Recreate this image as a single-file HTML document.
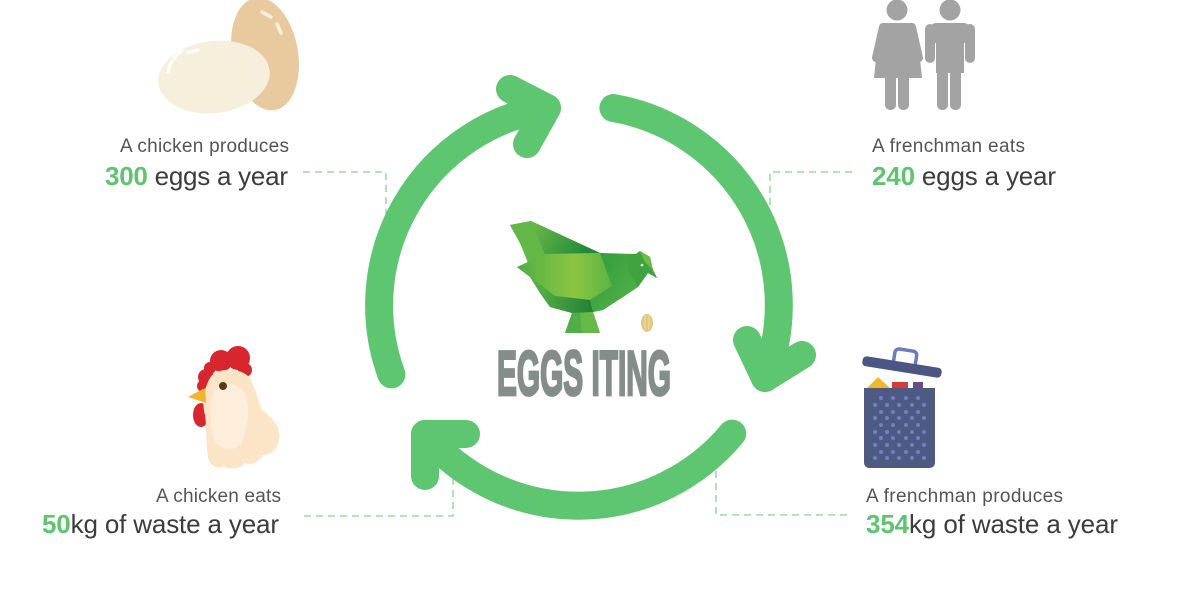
<!DOCTYPE html>
<html>
<head>
<meta charset="utf-8">
<style>
html,body{margin:0;padding:0;background:#fff;}
svg{display:block;}
text{font-family:"Liberation Sans",Arial,sans-serif;}
</style>
</head>
<body>
<svg width="1199" height="599" viewBox="0 0 1199 599" xmlns="http://www.w3.org/2000/svg">
<defs>
  <linearGradient id="gBack" x1="0" y1="0" x2="1" y2="0.3">
    <stop offset="0" stop-color="#6cbb48"/>
    <stop offset="1" stop-color="#1f8a3a"/>
  </linearGradient>
  <linearGradient id="gWing" x1="0" y1="0" x2="1" y2="0">
    <stop offset="0" stop-color="#4fae44"/>
    <stop offset="0.6" stop-color="#8cc540"/>
    <stop offset="1" stop-color="#5bb445"/>
  </linearGradient>
  <linearGradient id="gChest" x1="0" y1="0" x2="1" y2="1">
    <stop offset="0" stop-color="#2e9a3e"/>
    <stop offset="1" stop-color="#58b446"/>
  </linearGradient>
  <linearGradient id="gLow" x1="0" y1="0" x2="1" y2="0">
    <stop offset="0" stop-color="#5db445"/>
    <stop offset="1" stop-color="#237f38"/>
  </linearGradient>
</defs>

<rect width="1199" height="599" fill="#fff"/>

<!-- dashed connectors -->
<g fill="none" stroke="#86d395" stroke-width="1.3" stroke-dasharray="7 5">
  <path d="M303,172 H386 V215"/>
  <path d="M852,172 H770 V215"/>
  <path d="M304,516 H453 V470"/>
  <path d="M847,515 H716 V470"/>
</g>

<!-- cycle arrows -->
<g fill="none" stroke="#5ec671" stroke-width="28" stroke-linecap="round" stroke-linejoin="round">
  <path d="M391.4,374.4 A200,200 0 0 1 547,108"/>
  <path d="M510,89 L547,108 L527,144"/>
  <path d="M613.4,108 A200,200 0 0 1 765,378"/>
  <path d="M747,340 L765,378 L802,355"/>
  <path d="M732.2,433.6 A200,200 0 0 1 425,434"/>
  <path d="M466,434 L425,434 L425,476"/>
</g>

<!-- central hen logo -->
<g>
  <polygon points="510,225 531,221 600,253 636,254 640,251 650,257 653,270 657,278 648,273 638,287 603,310 593,312 600,333 565,333 572,313 550,307 540,293 530,277 517,267 530,264 520,243" fill="#4aa83f"/>
  <polygon points="510,225 531,221 545,254 528,263 520,243" fill="#62b747"/>
  <polygon points="531,221 600,253 545,254" fill="url(#gBack)"/>
  <polygon points="517,267 545,254 600,253 612,286 590,300 555,296 530,277" fill="url(#gWing)"/>
  <polygon points="530,277 555,296 590,300 593,312 572,313 550,307 540,293" fill="url(#gLow)"/>
  <polygon points="600,253 630,255 628,270 638,287 603,310 593,312 590,300 612,286" fill="url(#gChest)"/>
  <polygon points="630,255 636,254 640,251 650,257 653,270 657,278 648,273 638,287 628,270" fill="#3fa43f"/>
  <polygon points="640,251 650,257 653,270 645,262" fill="#6cbd48"/>
  <polygon points="572,313 593,312 600,333 565,333" fill="#4fae45"/>
  <polygon points="580,313 593,312 600,333 582,333" fill="#67b948"/>
  <circle cx="642" cy="265" r="1.3" fill="#fff"/>
  <ellipse cx="647" cy="323" rx="6" ry="9" fill="#e2c77e"/>
  <path d="M645,316 L645,330 M649,316 L649,330" stroke="#f1dfa8" stroke-width="1"/>
  <text x="497" y="395" font-size="63" font-weight="bold" fill="#858d8b" stroke="#858d8b" stroke-width="2.8" textLength="174" lengthAdjust="spacingAndGlyphs">EGGS ITING</text>
</g>

<!-- eggs icon -->
<g>
  <ellipse cx="265" cy="54" rx="33" ry="57" transform="rotate(-10 265 54)" fill="#e9c99e"/>
  <path d="M262,12 L271,17 M277,24 L281,33" stroke="#fbf0da" stroke-width="3.5" stroke-linecap="round" fill="none"/>
  <ellipse cx="214" cy="77" rx="56" ry="36" transform="rotate(-7 214 77)" fill="#f6efdc"/>
  <path d="M168,72 Q171,58 182,51 M188,52 L198,50" stroke="#fffdf6" stroke-width="3.5" stroke-linecap="round" fill="none"/>
</g>

<!-- people icon -->
<g fill="#a3a3a3">
  <circle cx="897" cy="10" r="10.5"/>
  <path d="M884,23 L911,23 Q915,23 916,28 L918,40 L922,78 L874,78 L878,40 L880,28 Q881,23 884,23 Z"/>
  <path d="M883,27 L876,58 M912,27 L919,58" stroke="#a3a3a3" stroke-width="8" stroke-linecap="round"/>
  <rect x="885" y="70" width="11" height="40" rx="5"/>
  <rect x="898" y="70" width="11" height="40" rx="5"/>
  <circle cx="950" cy="10" r="10.5"/>
  <rect x="930" y="23" width="40" height="20" rx="6"/>
  <rect x="925" y="24" width="10" height="39" rx="5"/>
  <rect x="965" y="24" width="10" height="39" rx="5"/>
  <rect x="936" y="23" width="28" height="50"/>
  <rect x="937" y="65" width="11" height="45" rx="5"/>
  <rect x="950" y="65" width="11" height="45" rx="5"/>
</g>

<!-- rooster icon -->
<g>
  <circle cx="206" cy="377" r="8" fill="#d8262f"/>
  <circle cx="203" cy="386" r="6" fill="#d8262f"/>
  <circle cx="210" cy="368" r="6" fill="#d8262f"/>
  <circle cx="221" cy="361" r="11" fill="#d8262f"/>
  <circle cx="238" cy="358" r="12" fill="#d8262f"/>
  <circle cx="245" cy="370" r="7" fill="#d8262f"/>
  <ellipse cx="201" cy="415" rx="8" ry="12" fill="#d8262f"/>
  <path d="M210,378 C215,368 240,366 250,378 C256,390 258,402 262,410 C272,418 282,428 279,440 C277,450 270,455 263,455 C258,463 250,466 245,463 C238,470 228,470 224,466 C218,470 210,466 208,458 C206,445 207,430 205,415 C202,405 203,390 210,378 Z" fill="#fce4c6"/>
  <path d="M214,390 C222,380 240,382 246,396 C250,410 248,430 240,445 C232,452 220,450 214,440 C210,425 209,405 214,390 Z" fill="#fdeedb"/>
  <polygon points="188,397 205,388 206,403" fill="#f4b52c"/>
  <circle cx="223" cy="386" r="4" fill="#5a3818"/>
</g>

<!-- trash icon -->
<g>
  <rect x="894" y="350" width="22" height="18" rx="4" transform="rotate(9 905 359)" fill="none" stroke="#6b7bc4" stroke-width="3.5"/>
  <rect x="862" y="362" width="80" height="10" rx="4" transform="rotate(9 902 367)" fill="#4b5682"/>
  <polygon points="867,388 878,377 890,388" fill="#f0b92c"/>
  <rect x="892" y="382" width="16" height="6" fill="#d83a3a"/>
  <rect x="913" y="382" width="10" height="6" fill="#6a4a8a"/>
  <path d="M864,388 H935 V462 Q935,468 929,468 H870 Q864,468 864,462 Z" fill="#4e5a82"/>
  <g fill="#6f80c8">
    <circle cx="881" cy="398" r="2"/><circle cx="893" cy="398" r="2"/><circle cx="906" cy="398" r="2"/><circle cx="918" cy="398" r="2"/>
    <circle cx="875" cy="405" r="2"/><circle cx="887" cy="405" r="2"/><circle cx="899" cy="405" r="2"/><circle cx="912" cy="405" r="2"/><circle cx="924" cy="405" r="2"/>
    <circle cx="881" cy="412" r="2"/><circle cx="893" cy="412" r="2"/><circle cx="906" cy="412" r="2"/><circle cx="918" cy="412" r="2"/>
    <circle cx="875" cy="418" r="2"/><circle cx="887" cy="418" r="2"/><circle cx="899" cy="418" r="2"/><circle cx="912" cy="418" r="2"/><circle cx="924" cy="418" r="2"/>
    <circle cx="881" cy="425" r="2"/><circle cx="893" cy="425" r="2"/><circle cx="906" cy="425" r="2"/><circle cx="918" cy="425" r="2"/>
    <circle cx="875" cy="432" r="2"/><circle cx="887" cy="432" r="2"/><circle cx="899" cy="432" r="2"/><circle cx="912" cy="432" r="2"/><circle cx="924" cy="432" r="2"/>
    <circle cx="881" cy="438" r="2"/><circle cx="893" cy="438" r="2"/><circle cx="906" cy="438" r="2"/><circle cx="918" cy="438" r="2"/>
    <circle cx="875" cy="445" r="2"/><circle cx="887" cy="445" r="2"/><circle cx="899" cy="445" r="2"/><circle cx="912" cy="445" r="2"/><circle cx="924" cy="445" r="2"/>
    <circle cx="881" cy="452" r="2"/><circle cx="893" cy="452" r="2"/><circle cx="906" cy="452" r="2"/><circle cx="918" cy="452" r="2"/>
    <circle cx="875" cy="458" r="2"/><circle cx="887" cy="458" r="2"/><circle cx="899" cy="458" r="2"/><circle cx="912" cy="458" r="2"/><circle cx="924" cy="458" r="2"/>
  </g>
</g>

<!-- labels -->
<g>
  <text x="289" y="152" text-anchor="end" font-size="19" fill="#555" textLength="169">A chicken produces</text>
  <text x="288" y="185" text-anchor="end" font-size="26" fill="#3c3c3c" textLength="183"><tspan font-weight="bold" fill="#5ec46f">300</tspan> eggs a year</text>

  <text x="872" y="152" font-size="19" fill="#555" textLength="153">A frenchman eats</text>
  <text x="872" y="185" font-size="26" fill="#3c3c3c" textLength="184"><tspan font-weight="bold" fill="#5ec46f">240</tspan> eggs a year</text>

  <text x="281" y="502" text-anchor="end" font-size="19" fill="#555" textLength="125">A chicken eats</text>
  <text x="279" y="533" text-anchor="end" font-size="26" fill="#3c3c3c" textLength="237"><tspan font-weight="bold" fill="#5ec46f">50</tspan>kg of waste a year</text>

  <text x="866" y="502" font-size="19" fill="#555" textLength="197">A frenchman produces</text>
  <text x="866" y="533" font-size="26" fill="#3c3c3c" textLength="252"><tspan font-weight="bold" fill="#5ec46f">354</tspan>kg of waste a year</text>
</g>
</svg>
</body>
</html>
